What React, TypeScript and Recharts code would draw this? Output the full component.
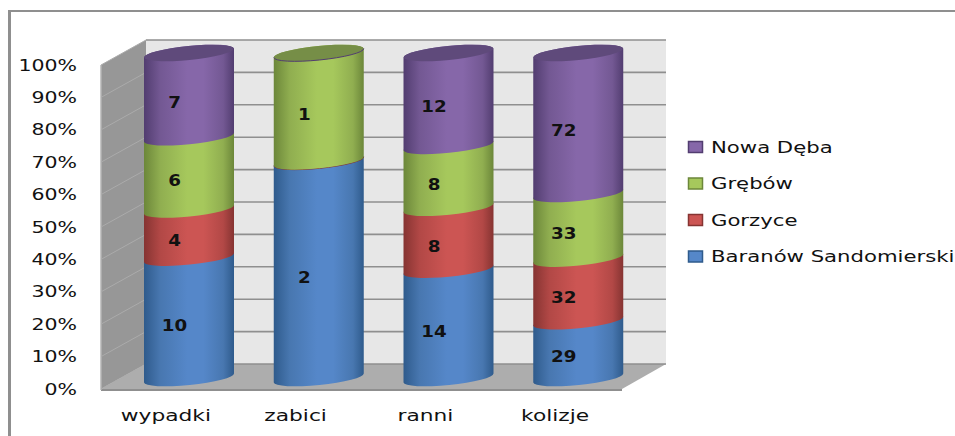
import { Bar, BarChart, CartesianGrid, LabelList, Legend, XAxis, YAxis } from "recharts";

const categories = ["wypadki", "zabici", "ranni", "kolizje"];
const baranow = [10, 2, 14, 29];
const gorzyce = [4, 0, 8, 32];
const grebow = [6, 1, 8, 33];
const nowaDeba = [7, 0, 12, 72];
const percentTicks = [0, 0.1, 0.2, 0.3, 0.4, 0.5, 0.6, 0.7, 0.8, 0.9, 1];

// 100% stack by hand: stackOffset="expand" pins every y axis to [0, 1],
// and the three axes here need their own domains for the fake depth
const data = categories.map((name, i) => {
  const total = baranow[i] + gorzyce[i] + grebow[i] + nowaDeba[i];
  return {
    name,
    baranow: baranow[i],
    gorzyce: gorzyce[i],
    grebow: grebow[i],
    nowaDeba: nowaDeba[i],
    baranowShare: baranow[i] / total,
    gorzyceShare: gorzyce[i] / total,
    grebowShare: grebow[i] / total,
    nowaDebaShare: nowaDeba[i] / total,
  };
});

type Series = { key: string; label: string; color: string; mid: string; edge: string; cap: string };

const SERIES: Series[] = [
  { key: "baranow", label: "Baranów Sandomierski", color: "#5587c9", mid: "#4877b0", edge: "#2f5b8c", cap: "#3f6da6" },
  { key: "gorzyce", label: "Gorzyce", color: "#cc5553", mid: "#b24846", edge: "#863432", cap: "#a03f3d" },
  { key: "grebow", label: "Grębów", color: "#a6c85c", mid: "#90ae50", edge: "#6c873a", cap: "#768e47" },
  { key: "nowaDeba", label: "Nowa Dęba", color: "#8667a9", mid: "#735893", edge: "#523d70", cap: "#5f4a7b" },
];

const FONT = "'DejaVu Sans', sans-serif";
const INK = "#111111";
const TILT = 4.5;
const RY = 7;

// the reference text is stretched sideways, so everything goes through this
function Stretched(props: any) {
  const { x, y, anchor = "middle", size = 17, weight = 400, sx = 1.25, children } = props;
  return (
    <text
      transform={`translate(${x} ${y}) scale(${sx} 1)`}
      textAnchor={anchor}
      dominantBaseline="central"
      fontFamily={FONT}
      fontSize={size}
      fontWeight={weight}
      fill={INK}
    >
      {children}
    </text>
  );
}

function makeCylinder(index: number) {
  const s = SERIES[index];
  return function Cylinder(props: any) {
    const { x, y, width, height, payload } = props;
    const right = x + width;
    const bottom = y + height;
    const rx = width / 2;
    const rot = -5.7;
    const hasAbove = SERIES.slice(index + 1).some((o) => payload[o.key] > 0);
    if (payload[s.key] === 0) {
      return (
        <path
          d={`M${x},${y + TILT} A${rx},${RY} ${rot} 0 0 ${right},${y - TILT}`}
          fill="none"
          stroke={s.edge}
          strokeWidth={1}
        />
      );
    }
    return (
      <g>
        <path
          d={`M${x},${y + TILT} L${x},${bottom + TILT} A${rx},${RY} ${rot} 0 0 ${right},${bottom - TILT} L${right},${y - TILT} A${rx},${RY} ${rot} 0 0 ${x},${y + TILT} Z`}
          fill={`url(#cyl-${s.key})`}
        />
        {!hasAbove && (
          <ellipse
            cx={x + rx}
            cy={y}
            rx={rx}
            ry={RY}
            transform={`rotate(${rot} ${x + rx} ${y})`}
            fill={s.cap}
          />
        )}
      </g>
    );
  };
}

function SegmentLabel(props: any) {
  const { x, y, width, height, value } = props;
  if (!value) return null;
  return (
    <Stretched x={x + width / 2 - 14.5} y={y + height / 2 + 7.5} size={15} weight={700} sx={1.22}>
      {value}
    </Stretched>
  );
}

function LegendBlock({ payload }: any) {
  const items = [...(payload ?? [])].reverse();
  return (
    <svg width={275} height={150} style={{ display: "block" }}>
      {items.map((item: any, i: number) => {
        const s = SERIES.find((o) => o.label === item.value);
        const cy = 16 + i * 36.5;
        return (
          <g key={item.value}>
            <rect x={8.5} y={cy - 5.5} width={14} height={11} fill={item.color} stroke={s?.edge} strokeWidth={1.5} />
            <Stretched x={31} y={cy} anchor="start" size={16} sx={1.325}>
              {item.value}
            </Stretched>
          </g>
        );
      })}
    </svg>
  );
}

function GridLine(props: any) {
  const { y1, index } = props;
  // the grid also hands over the plot's bottom edge, that one is not a wall line
  if (y1 > 365) return <g key={`wall-${index}`} />;
  return (
    <g key={`wall-${index}`}>
      <line x1={101} y1={y1 + 25} x2={146} y2={y1} stroke="#ababab" strokeWidth={1} />
      <line x1={146} y1={y1} x2={666} y2={y1} stroke="#8f8f8f" strokeWidth={1.6} />
    </g>
  );
}

// grey box behind the chart, the grid and cylinders sit on top of it
function Walls() {
  return (
    <svg width={955} height={436} style={{ position: "absolute", left: 0, top: 0 }}>
      <polygon points="146,40 666,40 666,364 146,364" fill="#e7e7e7" />
      <polygon points="101,65 146,40 146,364 101,389" fill="#979797" />
      <polygon points="101,389 622,389 666,364 146,364" fill="#adadad" />
      <line x1={101} y1={390} x2={622} y2={390} stroke="#8f8f8f" strokeWidth={2} />
      <line x1={101} y1={65} x2={101} y2={390} stroke="#b5b5b5" strokeWidth={1.5} />
    </svg>
  );
}

export default function App() {
  return (
    <div style={{ position: "absolute", left: 0, top: 0, width: 955, height: 436, background: "#fff", overflow: "hidden" }}>
      <div style={{ position: "absolute", left: 8, top: 10, width: 947, height: 426, borderTop: "2px solid #8f8f8f", borderLeft: "3px solid #8f8f8f", boxSizing: "border-box" }} />
      <Walls />
      <BarChart
        width={955}
        height={436}
        data={data}
        margin={{ top: 40, right: 289, bottom: 0, left: 0 }}
        style={{ position: "absolute", left: 0, top: 0 }}
      >
        <defs>
          {SERIES.map((s) => (
            <linearGradient key={s.key} id={`cyl-${s.key}`} x1="0" y1="0" x2="1" y2="0">
              <stop offset="0%" stopColor={s.edge} />
              <stop offset="18%" stopColor={s.mid} />
              <stop offset="48%" stopColor={s.color} />
              <stop offset="66%" stopColor={s.color} />
              <stop offset="88%" stopColor={s.mid} />
              <stop offset="100%" stopColor={s.edge} />
            </linearGradient>
          ))}
        </defs>

        <XAxis
          xAxisId="front"
          dataKey="name"
          height={47}
          interval={0}
          axisLine={false}
          tickLine={false}
          tickSize={0}
          tickMargin={6}
          padding={{ left: 0, right: 46 }}
          tick={(p: any) => (
            <Stretched x={p.x} y={p.y - 9} size={16} sx={1.36}>
              {p.payload.value}
            </Stretched>
          )}
        />
        <XAxis xAxisId="bars" dataKey="name" hide padding={{ left: 23, right: 23 }} />

        <YAxis
          yAxisId="front"
          type="number"
          domain={[0, 349 / 324]}
          allowDataOverflow
          ticks={percentTicks}
          interval={0}
          axisLine={false}
          tickLine={false}
          tickSize={0}
          width={101}
          tick={(p: any) => (
            <Stretched x={77} y={p.y} anchor="end" size={16} sx={1.28}>
              {`${Math.round(p.payload.value * 100)}%`}
            </Stretched>
          )}
        />
        <YAxis yAxisId="wall" type="number" hide domain={[-25 / 324, 1]} allowDataOverflow ticks={percentTicks} interval={0} />
        <YAxis yAxisId="bars" type="number" hide domain={[-11 / 325, 1 + 13 / 325]} allowDataOverflow />

        <CartesianGrid yAxisId="wall" xAxisId="front" vertical={false} horizontal={GridLine} />

        {SERIES.map((s, i) => (
          <Bar
            key={s.key}
            dataKey={`${s.key}Share`}
            name={s.label}
            stackId="a"
            xAxisId="bars"
            yAxisId="bars"
            barSize={90}
            fill={s.color}
            shape={makeCylinder(i)}
            isAnimationActive={false}
          >
            <LabelList dataKey={s.key} content={SegmentLabel} />
          </Bar>
        ))}

        <Legend
          layout="horizontal"
          verticalAlign="middle"
          align="center"
          wrapperStyle={{ left: 680, top: 131, width: 275, height: 150 }}
          content={LegendBlock}
        />
      </BarChart>
    </div>
  );
}
